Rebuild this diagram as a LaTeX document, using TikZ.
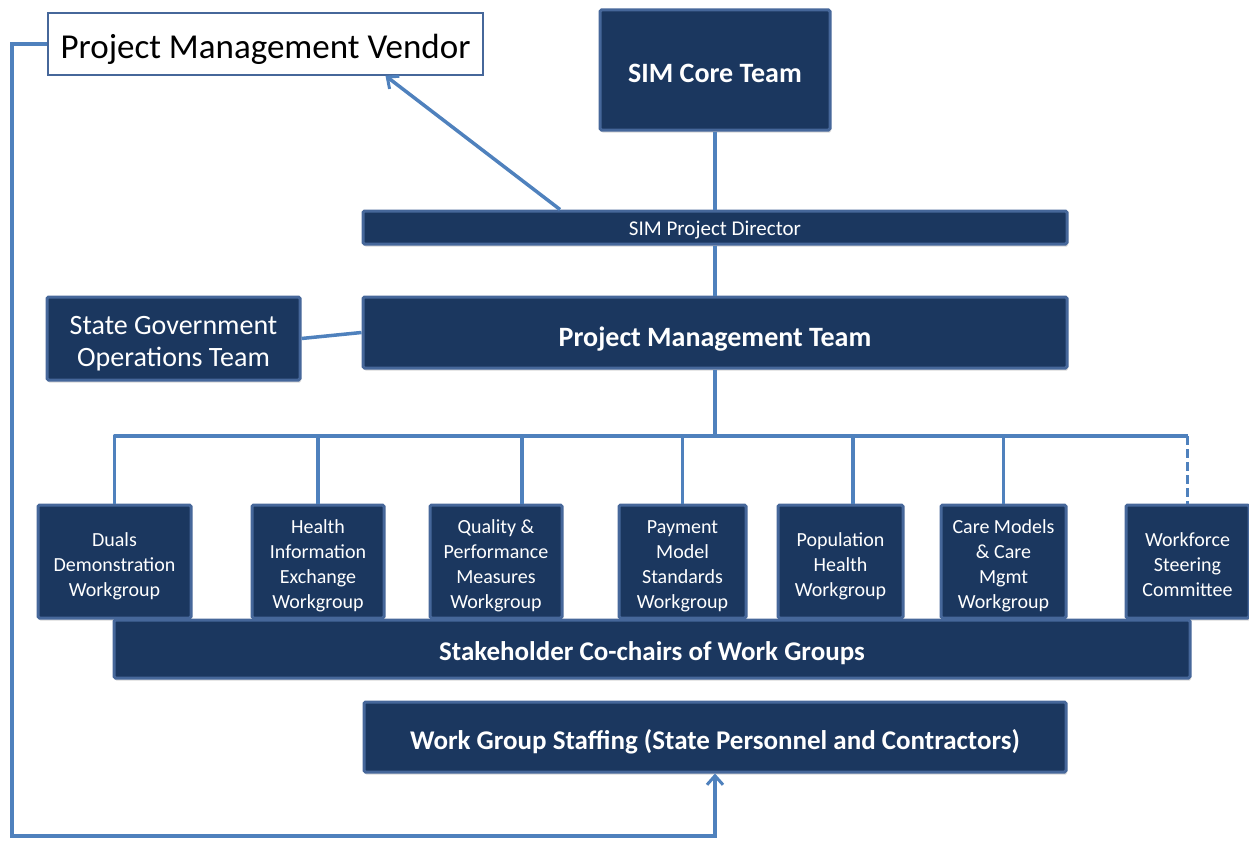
\documentclass[tikz,border=0pt]{standalone}
\usepackage{fontspec}
\setmainfont{Carlito}
\usetikzlibrary{arrows.meta,shadows}
\definecolor{navy}{HTML}{1B375F}
\definecolor{navyedge}{HTML}{46679A}
\definecolor{linkblue}{HTML}{4F81BD}
\tikzset{
  orgbox/.style={draw=navyedge, line width=3pt, fill=navy, text=white,
    rounded corners=1.5pt, inner sep=0pt, align=center,
    drop shadow={opacity=0.3, shadow xshift=1pt, shadow yshift=-2.5pt}},
  wgbox/.style={orgbox, minimum height=113pt, font=\fontsize{20}{25}\selectfont,
    text height={(#1-1)*25pt+19pt}, text depth=0pt},
  link/.style={draw=linkblue, line width=3.5pt},
  tip/.style={-{Straight Barb[length=9pt,width=16pt,line width=3pt]}}
}
\begin{document}
\begin{tikzpicture}[x=1pt,y=-1pt]
\useasboundingbox (0,0) rectangle (1249,840);

\node[draw=navyedge, line width=1.5pt, fill=white, minimum width=435pt, minimum height=62pt,
  font=\fontsize{35}{40}\selectfont, text height=28.5pt, text depth=0pt]
  (pmv) at (265.5,44) {Project Management Vendor};
\node[orgbox, minimum width=230pt, minimum height=120pt, font=\fontsize{28}{32}\bfseries,
  text height=26pt, text depth=0pt] (core) at (715,70) {SIM Core Team};
\node[orgbox, minimum width=704pt, minimum height=33pt, font=\fontsize{21}{25}\selectfont,
  text height=16.5pt, text depth=0pt] (spd) at (715,227.5) {SIM Project Director};
\node[orgbox, minimum width=704pt, minimum height=71pt, font=\fontsize{28}{32}\bfseries,
  text height=27pt, text depth=0pt] (pmt) at (715,332.5) {Project Management Team};
\node[orgbox, minimum width=253pt, minimum height=83pt, font=\fontsize{28}{32}\selectfont,
  text height=56pt, text depth=0pt] (sgo) at (173.5,338.5) {State Government\\Operations Team};

\node[wgbox=3, minimum width=153pt] (dd) at (114.5,561.5) {Duals\\Demonstration\\Workgroup};
\node[wgbox=4, minimum width=132pt] (hie) at (318,561.5) {Health\\Information\\Exchange\\Workgroup};
\node[wgbox=4, minimum width=132pt] (qpm) at (496,561.5) {Quality \&\\Performance\\Measures\\Workgroup};
\node[wgbox=4, minimum width=127pt] (pms) at (682.5,561.5) {Payment\\Model\\Standards\\Workgroup};
\node[wgbox=3, minimum width=125pt] (ph) at (840.5,561.5) {Population\\Health\\Workgroup};
\node[wgbox=4, minimum width=125pt] (cm) at (1003.5,561.5) {Care Models\\\& Care\\Mgmt\\Workgroup};
\node[wgbox=3, minimum width=123pt] (wsc) at (1187.5,561.5) {Workforce\\Steering\\Committee};

\node[orgbox, minimum width=1076pt, minimum height=58pt, font=\fontsize{27}{32}\bfseries,
  text height=23.5pt, text depth=0pt] (stake) at (652,649) {Stakeholder Co-chairs of Work Groups};
\node[orgbox, minimum width=702pt, minimum height=70pt, font=\fontsize{27}{32}\bfseries,
  text height=25.5pt, text depth=0pt] (wgs) at (715,737) {Work Group Staffing (State Personnel and Contractors)};

% reporting lines
\draw[link] (core.south) -- (spd.north);
\draw[link] (spd.south) -- (pmt.north);
\draw[link] (sgo.east) -- (pmt.west);
\draw[link,tip] ([xshift=-155pt]spd.north) -- ([xshift=120pt]pmv.south);

\coordinate (bus) at (715,436);
\draw[link] (pmt.south) -- (bus);
\draw[link, line join=round] (dd.north) -- (dd.north |- bus) -- (wsc.north |- bus);
\foreach \wg in {hie,pms,cm}
  \draw[link] (\wg.north |- bus) -- (\wg.north);
\draw[link] ([xshift=26pt]qpm.north |- bus) -- ([xshift=26pt]qpm.north);
\draw[link] ([xshift=12.5pt]ph.north |- bus) -- ([xshift=12.5pt]ph.north);
\draw[link, dash pattern=on 9pt off 4pt] (wsc.north |- bus) -- (wsc.north);

% vendor loop down to the staffing box
\coordinate (loop) at (12,836);
\draw[link,tip] (pmv.west) -| (loop) -| (wgs.south);
\end{tikzpicture}
\end{document}
